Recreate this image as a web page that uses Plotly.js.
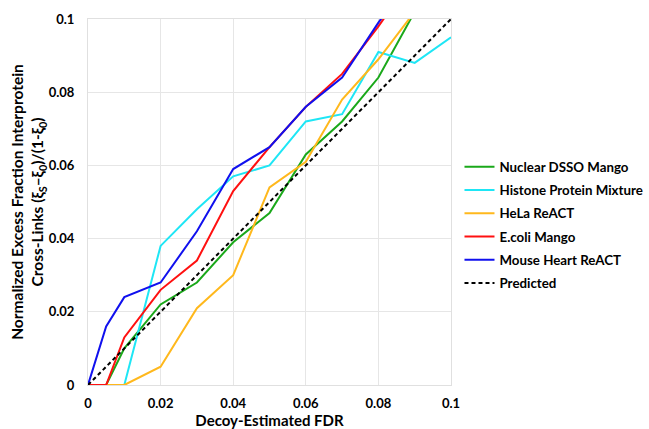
<!DOCTYPE html>
<html><head><meta charset="utf-8">
<script src="https://cdn.plot.ly/plotly-3.0.1.min.js"></script>
<style>body{margin:0;background:#fff}#c{width:649px;height:429px}</style>
</head><body><div id="c"></div>
<script>
const fdr = [0, 0.005, 0.01, 0.02, 0.03, 0.04, 0.05, 0.06, 0.07, 0.08, 0.09, 0.1];
const nuclear = [0, 0, 0.010, 0.022, 0.028, 0.039, 0.047, 0.063, 0.072, 0.084, 0.102, null];
const histone = [0, 0, 0, 0.038, 0.048, 0.057, 0.060, 0.072, 0.074, 0.091, 0.088, 0.095];
const hela = [0, 0, 0, 0.005, 0.021, 0.030, 0.054, 0.061, 0.078, 0.089, 0.102, null];
const ecoli = [0, 0, 0.013, 0.026, 0.034, 0.053, 0.065, 0.076, 0.085, 0.098, 0.112, null];
const mouse = [0, 0.016, 0.024, 0.028, 0.042, 0.059, 0.065, 0.076, 0.084, 0.099, 0.113, null];
const predicted = [0, 0.005, 0.01, 0.02, 0.03, 0.04, 0.05, 0.06, 0.07, 0.08, 0.09, 0.1];
const names = ["Nuclear DSSO Mango", "Histone Protein Mixture", "HeLa ReACT", "E.coli Mango", "Mouse Heart ReACT", "Predicted"];
const tickVals = [0, 0.02, 0.04, 0.06, 0.08, 0.1];
const tickText = ["0", "0.02", "0.04", "0.06", "0.08", "0.1"];

const FONT = "Lato, 'Open Sans', sans-serif";
const series = [
  {y: nuclear, c: "#1aa81a"},
  {y: histone, c: "#1ee6f5"},
  {y: hela, c: "#ffb81c"},
  {y: ecoli, c: "#ff1010"},
  {y: mouse, c: "#1010ee"},
];
const traces = series.map((s, i) => ({
  x: fdr, y: s.y, name: names[i], type: "scatter", mode: "lines",
  legendgroup: "g" + i,
  line: {color: s.c, width: 2}
}));
traces.push({x: fdr, y: predicted, name: names[5], type: "scatter", mode: "lines",
  legendgroup: "g5",
  line: {color: "#000", width: 2, dash: "4px,3px"}});

const layout = {
  width: 649, height: 429,
  margin: {l: 88, r: 198, t: 19, b: 44},
  paper_bgcolor: "#fff", plot_bgcolor: "#fff",
  font: {family: FONT, color: "#000"},
  showlegend: true,
  legend: {xref: "container", yref: "container", x: 0.708, y: 1 - 225 / 429,
    xanchor: "left", yanchor: "middle", traceorder: "grouped",
    font: {family: FONT, size: 13.3, weight: "bold", color: "#000"},
    tracegroupgap: 3, itemwidth: 30, bgcolor: "rgba(0,0,0,0)"},
  xaxis: {range: [0, 0.1], tickvals: tickVals, ticktext: tickText,
    showgrid: true, gridcolor: "#e6e6e6", gridwidth: 1, zeroline: false,
    showline: true, linecolor: "#e0e0e0", mirror: true, ticks: "",
    ticklabelstandoff: 6,
    tickfont: {family: FONT, size: 13, weight: "bold"},
    title: {text: "Decoy-Estimated FDR", font: {family: FONT, size: 15, weight: "bold"}, standoff: 18}},
  yaxis: {range: [0, 0.1], tickvals: tickVals, ticktext: tickText,
    showgrid: true, gridcolor: "#e6e6e6", gridwidth: 1, zeroline: false,
    showline: true, linecolor: "#e0e0e0", mirror: true, ticks: "",
    ticklabelstandoff: 10,
    tickfont: {family: FONT, size: 13, weight: "bold"},
    title: {text: "Normalized Excess Fraction Interprotein<br>Cross-Links (ξ<sub>S</sub>–ξ<sub>0</sub>)/(1-ξ<sub>0</sub>)",
      font: {family: FONT, size: 15.5, weight: "bold"}, standoff: 0}}
};
Plotly.newPlot("c", traces, layout, {displayModeBar: false, staticPlot: true});
</script></body></html>
